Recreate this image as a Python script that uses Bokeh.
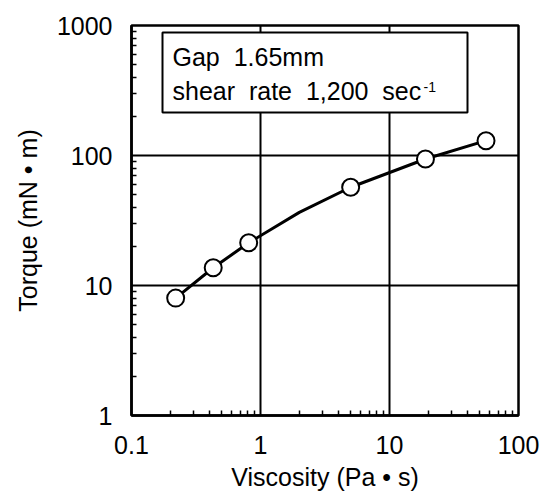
from bokeh.plotting import figure
from bokeh.models import FixedTicker, CustomJSTickFormatter, BoxAnnotation, Label
from bokeh.embed import file_html
from bokeh.resources import INLINE

# Data
viscosity = [0.22, 0.43, 0.81, 5.0, 19.0, 56.0]        # Pa·s (markers)
torque = [8.0, 13.7, 21.3, 57.0, 94.0, 130.0]          # mN·m
curve_viscosity = [0.22, 0.43, 0.81, 2.0, 5.0, 19.0, 56.0]   # drawn curve
curve_torque = [8.0, 13.7, 21.3, 36.5, 57.0, 94.0, 130.0]

x_major = [0.1, 1, 10, 100]
y_major = [1, 10, 100, 1000]
x_minor = [m * d for d in (0.1, 1, 10) for m in range(2, 10)]
y_minor = [m * d for d in (1, 10, 100) for m in range(2, 10)]

FONT = "Liberation Sans"
NB = "\u00a0"
W, H = 542, 494
L, R, T, B = 131, 24, 25, 79

p = figure(width=W, height=H, x_axis_type="log", y_axis_type="log",
           x_range=(0.1, 100), y_range=(1, 1000),
           output_backend="svg", toolbar_location=None,
           min_border_left=L, min_border_right=R, min_border_top=T, min_border_bottom=B)
p.background_fill_color = "white"
p.border_fill_color = "white"
p.outline_line_color = "black"
p.outline_line_width = 2.5

p.xaxis.ticker = FixedTicker(ticks=x_major, minor_ticks=x_minor)
p.yaxis.ticker = FixedTicker(ticks=y_major, minor_ticks=y_minor)
fmt = CustomJSTickFormatter(code="return String(tick);")
for ax in (p.xaxis[0], p.yaxis[0]):
    ax.formatter = fmt
    ax.axis_line_color = "black"
    ax.axis_line_width = 2.5
    ax.major_tick_in = 0
    ax.major_tick_out = 0
    ax.minor_tick_in = 5
    ax.minor_tick_out = 0
    ax.minor_tick_line_color = "black"
    ax.minor_tick_line_width = 1.5
    ax.major_label_text_font = FONT
    ax.major_label_text_font_size = "25px"
    ax.major_label_text_color = "black"
    ax.axis_label_text_font = FONT
    ax.axis_label_text_font_size = "25px"
    ax.axis_label_text_font_style = "normal"
    ax.axis_label_text_color = "black"

p.xaxis.axis_label = "Viscosity (Pa • s)"
p.yaxis.axis_label = "Torque (mN • m)"
p.xaxis.major_label_standoff = 20
p.yaxis.major_label_standoff = 19
p.xaxis.axis_label_standoff = 6
p.yaxis.axis_label_standoff = 12

for g in (p.xgrid[0], p.ygrid[0]):
    g.grid_line_color = "black"
    g.grid_line_width = 2

p.line(curve_viscosity, curve_torque, line_color="black", line_width=3)
p.scatter(viscosity, torque, size=17, marker="circle", fill_color="white",
          line_color="black", line_width=2)

# annotation box (pixel positions inside the frame converted to data space)
FW, FH = W - L - R, H - T - B
def fx(px):
    return 10 ** (-1 + 3 * (px - L) / FW)
def fy(py):
    return 10 ** (3 * (H - B - py) / FH)

box = BoxAnnotation(left=fx(162), right=fx(467), top=fy(32), bottom=fy(112),
                    fill_color="white", fill_alpha=1.0,
                    line_color="black", line_width=2, line_alpha=1.0)
p.add_layout(box)

line1 = "Gap" + NB + " 1.65mm"
line2 = "shear" + NB + " rate" + NB + " 1,200" + NB + " sec"
for txt, py in ((line1, 56), (line2, 90)):
    p.add_layout(Label(x=fx(172), y=fy(py), text=txt, text_font=FONT,
                       text_font_size="25px", text_baseline="alphabetic",
                       text_align="left", text_color="black"))
p.add_layout(Label(x=fx(423), y=fy(86), text="-1", text_font=FONT,
                   text_font_size="14px", text_baseline="alphabetic",
                   text_align="left", text_color="black"))

open("out.html", "w").write(file_html(p, INLINE))
